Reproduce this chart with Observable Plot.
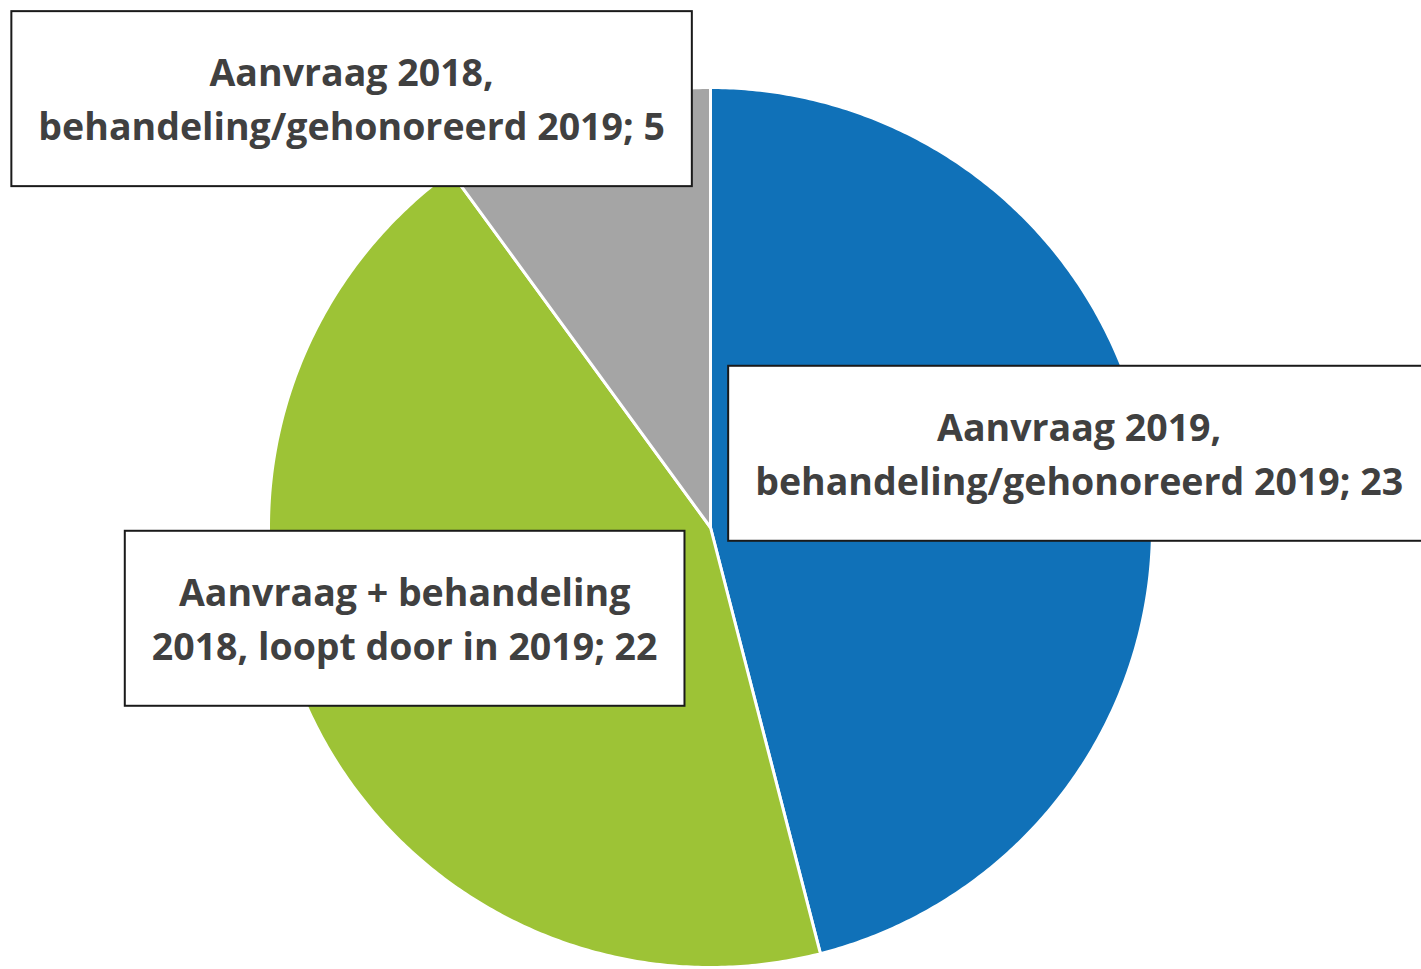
<!DOCTYPE html>
<html>
<head>
<meta charset="utf-8">
<script src="https://cdn.jsdelivr.net/npm/d3@7"></script>
<script src="https://cdn.jsdelivr.net/npm/@observablehq/plot@0.6"></script>
<style>
  html, body { margin: 0; padding: 0; background: #fff; }
  #chart svg { display: block; }
</style>
</head>
<body>
<div id="chart"></div>
<script>
// ---- data ----
const categories = [
  "Aanvraag 2019,\nbehandeling/gehonoreerd 2019",
  "Aanvraag + behandeling\n2018, loopt door in 2019",
  "Aanvraag 2018,\nbehandeling/gehonoreerd 2019"
];
const values = [23, 22, 5];
const colors = ["#1071b8", "#9dc336", "#a5a5a5"];

// ---- layout (label anchors in pie-radius units, not data) ----
const labelAnchorX = [0.834, -0.692, -0.812];
const labelAnchorY = [0.175, -0.200, 0.981];

// ---- build slice outlines (polar -> cartesian, unit radius) ----
const total = d3.sum(values);
const slices = [];
let cum = 0;
categories.forEach((cat, i) => {
  const a0 = (cum / total) * 2 * Math.PI;
  cum += values[i];
  const a1 = (cum / total) * 2 * Math.PI;
  const n = Math.max(2, Math.ceil((a1 - a0) / (Math.PI / 360)));
  slices.push({cat, x: 0, y: 0});
  for (let k = 0; k <= n; k++) {
    const a = a0 + (a1 - a0) * k / n;
    slices.push({cat, x: Math.sin(a), y: Math.cos(a)});
  }
  slices.push({cat, x: 0, y: 0});
});

const labels = categories.map((cat, i) => ({
  text: `${cat}; ${values[i]}`,
  x: labelAnchorX[i],
  y: labelAnchorY[i]
}));

const fontSize = 37.5;
const plot = Plot.plot({
  width: 1421,
  height: 969,
  marginLeft: 268,
  marginRight: 269,
  marginTop: 87,
  marginBottom: 2,
  x: {domain: [-1, 1], axis: null},
  y: {domain: [-1, 1], axis: null},
  color: {domain: categories, range: colors},
  style: {fontFamily: "'Open Sans', sans-serif", background: "#fff", overflow: "visible"},
  marks: [
    Plot.line(slices, {x: "x", y: "y", z: "cat", fill: "cat", stroke: "white", strokeWidth: 3, strokeLinejoin: "round", curve: "linear"}),
    Plot.text(labels, {
      x: "x", y: "y", text: "text",
      fontSize, fontWeight: 700, fill: "#404040",
      lineHeight: 54 / fontSize, textAnchor: "middle"
    })
  ]
});
document.getElementById("chart").append(plot);

// boxes behind the data labels, sized from the rendered text
const g = plot.querySelector('g[aria-label="text"]');
const padX = 27, padY = 35;
if (g) g.querySelectorAll("text").forEach(t => {
  const b = t.getBBox();
  const tr = t.getAttribute("transform");
  const r = document.createElementNS("http://www.w3.org/2000/svg", "rect");
  r.setAttribute("x", b.x - padX);
  r.setAttribute("y", b.y - padY);
  r.setAttribute("width", b.width + 2 * padX);
  r.setAttribute("height", b.height + 2 * padY);
  r.setAttribute("fill", "white");
  r.setAttribute("stroke", "#1a1a1a");
  r.setAttribute("stroke-width", 2);
  if (tr) r.setAttribute("transform", tr);
  g.insertBefore(r, t);
});
</script>
</body>
</html>
